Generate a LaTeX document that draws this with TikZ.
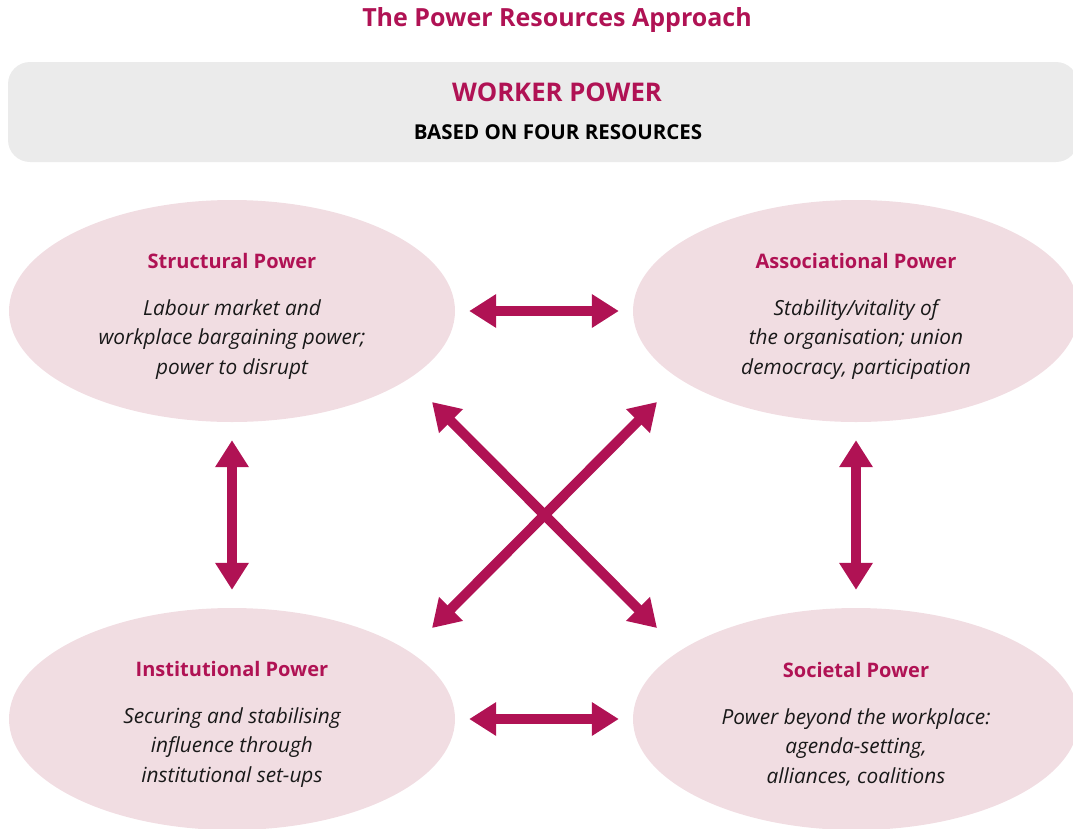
\documentclass[tikz,border=0pt]{standalone}
\usepackage{fontspec}
\setmainfont{Open Sans}
\usetikzlibrary{arrows.meta,shapes.geometric}

\definecolor{berry}{RGB}{176,18,84}
\definecolor{blush}{RGB}{241,221,226}
\definecolor{mist}{RGB}{235,235,235}

\tikzset{
    power/.style={ellipse, fill=blush, minimum width=446pt, minimum height=222pt,
        inner sep=0pt, align=center, text=black!90,
        font=\fontsize{20.8}{29.5}\selectfont\itshape},
    link/.style={berry, line width=10pt,
        {Triangle[length=27pt,width=32pt]}-{Triangle[length=27pt,width=32pt]}},
}
% bold coloured first line, a strut above it pushes the block a bit lower
\newcommand{\heading}[1]{{\fontsize{20}{29.5}\selectfont\upshape\bfseries\color{berry}\rule{0pt}{26pt}#1}\\[17pt]}

\begin{document}
\begin{tikzpicture}[x=1pt,y=-1pt]
        \useasboundingbox (0,0) rectangle (1073,828);
        % title and banner
        \node[font=\fontsize{25}{30}\selectfont\bfseries, text=berry] (title) at (557,20) {The Power Resources Approach};
        \node[fill=mist, rounded corners=22pt, minimum width=1070pt, minimum height=100pt] (banner) at (543,112) {};
        \node[font=\fontsize{25.7}{30}\selectfont\bfseries, text=berry] (worker) at (557,92) {WORKER POWER};
        \node[font=\fontsize{20.5}{24}\selectfont\bfseries] (based) at (558,132) {BASED ON FOUR RESOURCES};
        % the four resources
        \node[power] (struct) at (232,311) {\heading{Structural Power}Labour market and\\workplace bargaining power;\\power to disrupt};
        \node[power] (assoc) at (856,311) {\heading{Associational Power}Stability/vitality of\\the organisation; union\\democracy, participation};
        \node[power] (inst) at (232,719) {\heading{Institutional Power}Securing and stabilising\\influence through\\institutional set-ups};
        \node[power] (soc) at (856,719) {\heading{Societal Power}Power beyond the workplace:\\agenda-setting,\\alliances, coalitions};
        % links between them
        \draw[link, shorten <=14pt, shorten >=14pt] (struct) -- (assoc);
        \draw[link, shorten <=14pt, shorten >=14pt] (inst) -- (soc);
        \draw[link, shorten <=18pt, shorten >=18pt] (struct) -- (inst);
        \draw[link, shorten <=18pt, shorten >=18pt] (assoc) -- (soc);
        \coordinate (nw) at (432,402);
        \coordinate (ne) at (657,402);
        \coordinate (sw) at (432,628);
        \coordinate (se) at (657,628);
        \draw[link] (nw) -- (se);
        \draw[link] (ne) -- (sw);
\end{tikzpicture}
\end{document}
